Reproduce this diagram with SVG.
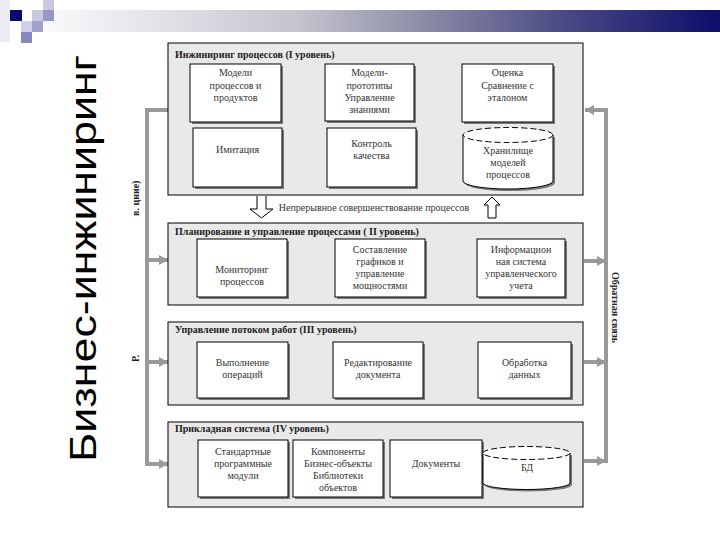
<svg xmlns="http://www.w3.org/2000/svg" width="720" height="540" viewBox="0 0 720 540">
<defs>
<linearGradient id="bar" x1="0" y1="0" x2="1" y2="0">
<stop offset="0" stop-color="#fbfbfd"/>
<stop offset="0.38" stop-color="#c4c4cf"/>
<stop offset="0.57" stop-color="#8a8aa5"/>
<stop offset="0.77" stop-color="#4a4a85"/>
<stop offset="1" stop-color="#0d0d6b"/>
</linearGradient>
<marker id="ah" markerWidth="10" markerHeight="10" refX="9" refY="5" orient="auto" markerUnits="userSpaceOnUse">
<path d="M0,0 L9,5 L0,10 z" fill="#999"/>
</marker>
<style>
.panel{fill:#e9e9e9;stroke:#000;stroke-width:1}
.box{fill:#fff;stroke:#000;stroke-width:1}
.sh{fill:#7a7a7a}
.pt{font-family:"Liberation Serif",serif;font-size:10px;font-weight:bold;fill:#222}
.bt{font-family:"Liberation Serif",serif;font-size:10px;fill:#333;text-anchor:middle}
.con{stroke:#999;stroke-width:4;fill:none}
.lbl{font-family:"Liberation Serif",serif;font-size:10px;font-weight:bold;fill:#222}
</style>
</defs>
<rect width="720" height="540" fill="#fff"/>
<g id="header">
<rect x="40" y="10" width="680" height="22" fill="url(#bar)"/>
<rect x="0" y="0" width="10" height="42" fill="#ececf3"/>
<rect x="10" y="10" width="12" height="11" fill="#0a0a6e"/>
<rect x="43" y="0" width="11" height="10" fill="#c8c8e0"/>
<rect x="43" y="10" width="11" height="11" fill="#9898c8"/>
<rect x="32" y="10" width="11" height="11" fill="#c8c8e0"/>
<rect x="32" y="21" width="11" height="11" fill="#a0a0cc"/>
<rect x="21" y="21" width="11" height="11" fill="#d0d0e4"/>
<rect x="21" y="32" width="11" height="11" fill="#8888c0"/>
</g>
<text id="title" transform="translate(96,462) rotate(-90)" font-family="Liberation Sans, Arial, sans-serif" font-size="36" fill="#000" textLength="407" lengthAdjust="spacingAndGlyphs">Бизнес-инжиниринг</text>
<g id="side-labels">
<text class="lbl" transform="translate(139,216) rotate(-90)">в. цние)</text>
<text class="lbl" transform="translate(139,362) rotate(-90)">Р.</text>
<text class="lbl" transform="translate(612,272) rotate(90)">Обратная связь</text>
</g>
<g id="connectors">
<path class="con" d="M147,466 L147,110 L168,110"/>
<path class="con" d="M147,260 L168,260" marker-end="url(#ah)"/>
<path class="con" d="M147,362 L168,362" marker-end="url(#ah)"/>
<path class="con" d="M145,464 L168,464" marker-end="url(#ah)"/>
<path class="con" d="M606,463 L606,110 L585,110" marker-end="url(#ah)"/>
<path class="con" d="M584,261 L606,261" marker-end="url(#ah)"/>
<path class="con" d="M584,362 L606,362" marker-end="url(#ah)"/>
<path class="con" d="M584,461 L606,461" marker-end="url(#ah)"/>
<path d="M257,196 L257,209 L250,209 L261.5,218 L273,209 L266,209 L266,196" fill="#fff" stroke="#000" stroke-width="1"/>
<path d="M492,197 L500,205 L496,205 L496,218 L488,218 L488,205 L484,205 z" fill="#fff" stroke="#000" stroke-width="1"/>
<text class="bt" x="374" y="211">Непрерывное совершенствование процессов</text>
</g>
<g id="panel1">
<rect class="panel" x="168" y="43" width="415" height="152"/>
<text class="pt" x="175" y="58">Инжиниринг процессов (I уровень)</text>
</g>
<g id="p1-models">
<rect class="sh" x="192" y="66" width="91" height="58"/><rect class="box" x="190" y="64" width="91" height="58"/>
<text class="bt" x="235.5" y="76">Модели</text><text class="bt" x="235.5" y="89">процессов и</text><text class="bt" x="235.5" y="101">продуктов</text>
</g>
<g id="p1-prototypes">
<rect class="sh" x="327" y="66" width="89" height="57"/><rect class="box" x="325" y="64" width="89" height="57"/>
<text class="bt" x="369.5" y="76">Модели-</text><text class="bt" x="369.5" y="89">прототипы</text><text class="bt" x="369.5" y="101">Управление</text><text class="bt" x="369.5" y="113">знаниями</text>
</g>
<g id="p1-eval">
<rect class="sh" x="464" y="66" width="91" height="58"/><rect class="box" x="462" y="64" width="91" height="58"/>
<text class="bt" x="507.5" y="76">Оценка</text><text class="bt" x="507.5" y="89">Сравнение с</text><text class="bt" x="507.5" y="101">эталоном</text>
</g>
<g id="p1-imit">
<rect class="sh" x="195" y="130" width="89" height="59"/><rect class="box" x="193" y="128" width="89" height="59"/>
<text class="bt" x="237.5" y="153">Имитация</text>
</g>
<g id="p1-quality">
<rect class="sh" x="329" y="130" width="89" height="59"/><rect class="box" x="327" y="128" width="89" height="59"/>
<text class="bt" x="371.5" y="147">Контроль</text><text class="bt" x="371.5" y="159">качества</text>
</g>
<g id="p1-store">
<path d="M465,137 L465,183 A45,8 0 0 0 555,183 L555,137" fill="#7a7a7a"/>
<path d="M463,135 L463,181 A45,8 0 0 0 553,181 L553,135" fill="#fff" stroke="#000" stroke-width="1"/>
<ellipse cx="508" cy="135" rx="45" ry="7.5" fill="#fff" stroke="#000" stroke-width="1" stroke-dasharray="6,3"/>
<text class="bt" x="508" y="154">Хранилище</text><text class="bt" x="508" y="166">моделей</text><text class="bt" x="508" y="178">процессов</text>
</g>
<g id="panel2">
<rect class="panel" x="168" y="223" width="415" height="82"/>
<text class="pt" x="175" y="235">Планирование и управление процессами ( II уровень)</text>
</g>
<g id="p2-monitor">
<rect class="sh" x="199" y="241" width="90" height="58"/><rect class="box" x="197" y="239" width="90" height="58"/>
<text class="bt" x="242" y="273">Мониторинг</text><text class="bt" x="242" y="285">процессов</text>
</g>
<g id="p2-sched">
<rect class="sh" x="337" y="241" width="90" height="58"/><rect class="box" x="335" y="239" width="90" height="58"/>
<text class="bt" x="380" y="253">Составление</text><text class="bt" x="380" y="265">графиков и</text><text class="bt" x="380" y="277">управление</text><text class="bt" x="380" y="289">мощностями</text>
</g>
<g id="p2-info">
<rect class="sh" x="479" y="241" width="88" height="58"/><rect class="box" x="477" y="239" width="88" height="58"/>
<text class="bt" x="521" y="253">Информацион</text><text class="bt" x="521" y="265">ная система</text><text class="bt" x="521" y="277">управленческого</text><text class="bt" x="521" y="289">учета</text>
</g>
<g id="panel3">
<rect class="panel" x="168" y="322" width="415" height="83"/>
<text class="pt" x="175" y="333">Управление потоком работ (III уровень)</text>
</g>
<g id="p3-exec">
<rect class="sh" x="199" y="344" width="91" height="56"/><rect class="box" x="197" y="342" width="91" height="56"/>
<text class="bt" x="242.5" y="366">Выполнение</text><text class="bt" x="242.5" y="378">операций</text>
</g>
<g id="p3-edit">
<rect class="sh" x="335" y="344" width="90" height="56"/><rect class="box" x="333" y="342" width="90" height="56"/>
<text class="bt" x="378" y="366">Редактирование</text><text class="bt" x="378" y="378">документа</text>
</g>
<g id="p3-data">
<rect class="sh" x="480" y="344" width="93" height="56"/><rect class="box" x="478" y="342" width="93" height="56"/>
<text class="bt" x="524.5" y="366">Обработка</text><text class="bt" x="524.5" y="378">данных</text>
</g>
<g id="panel4">
<rect class="panel" x="168" y="422" width="415" height="85"/>
<text class="pt" x="175" y="432">Прикладная система (IV уровень)</text>
</g>
<g id="p4-modules">
<rect class="sh" x="200" y="442" width="90" height="57"/><rect class="box" x="198" y="440" width="90" height="57"/>
<text class="bt" x="243" y="455">Стандартные</text><text class="bt" x="243" y="467">программные</text><text class="bt" x="243" y="479">модули</text>
</g>
<g id="p4-components">
<rect class="sh" x="295" y="442" width="90" height="57"/><rect class="box" x="293" y="440" width="90" height="57"/>
<text class="bt" x="338" y="455">Компоненты</text><text class="bt" x="338" y="467">Бизнес-объекты</text><text class="bt" x="338" y="479">Библиотеки</text><text class="bt" x="338" y="491">объектов</text>
</g>
<g id="p4-docs">
<rect class="sh" x="392" y="442" width="92" height="57"/><rect class="box" x="390" y="440" width="92" height="57"/>
<text class="bt" x="436" y="467">Документы</text>
</g>
<g id="p4-db">
<path d="M485,455 L485,485 A43.5,6.5 0 0 0 572,485 L572,455" fill="#7a7a7a"/>
<path d="M483,453 L483,483 A43.5,6.5 0 0 0 570,483 L570,453" fill="#fff" stroke="#000" stroke-width="1"/>
<ellipse cx="526.5" cy="453" rx="43.5" ry="6.5" fill="#fff" stroke="#000" stroke-width="1" stroke-dasharray="6,3"/>
<text class="bt" x="527" y="471">БД</text>
</g>
</svg>
